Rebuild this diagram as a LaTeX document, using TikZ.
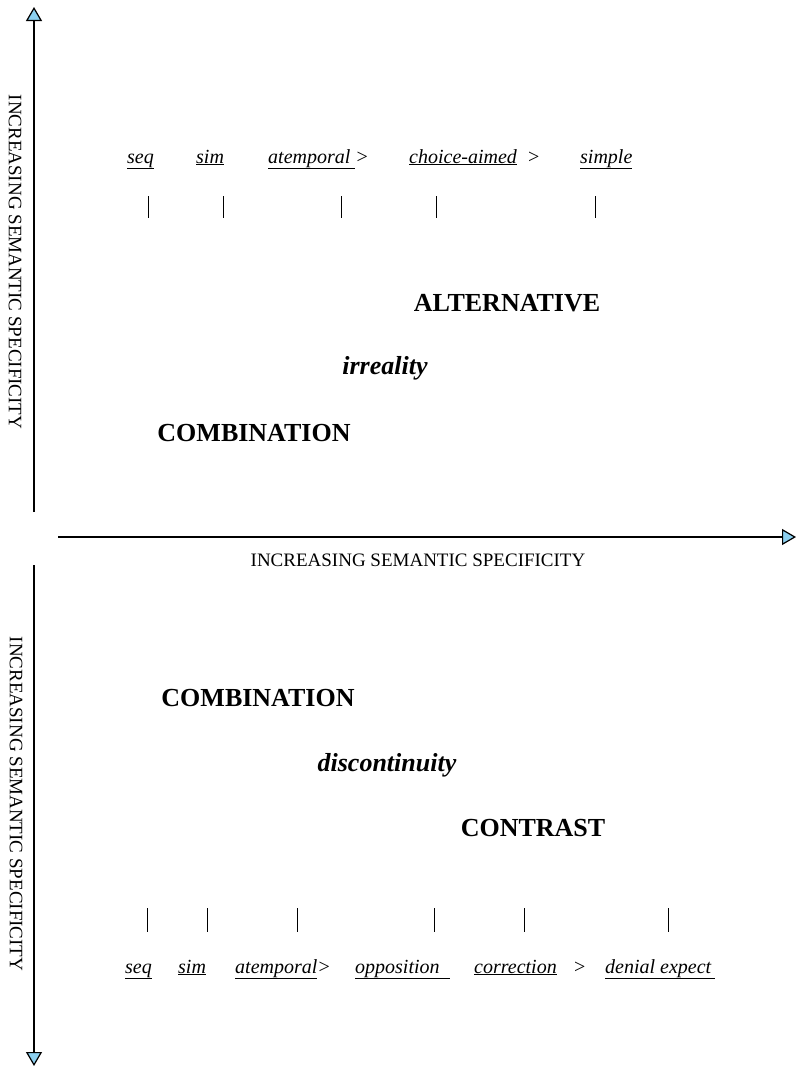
\documentclass[tikz,border=0pt]{standalone}
\usepackage{fontspec}
\setmainfont{Liberation Serif}
\usetikzlibrary{arrows.meta}
\definecolor{tipblue}{RGB}{140,208,240}

\begin{document}
\begin{tikzpicture}
    [x=1pt, y=-1pt,
      axis/.style={line width=1.4pt, -{Triangle[width=16pt,length=14pt,fill=tipblue,line width=1.2pt]}},
      axislabel/.style={font=\fontsize{19}{22}\selectfont, inner sep=0pt},
      marker/.style={font=\itshape\fontsize{20}{24}\selectfont, anchor=base west, inner sep=0pt},
      tickline/.style={line width=0.8pt},
      category/.style={font=\bfseries\fontsize{26}{30}\selectfont, anchor=base, inner sep=0pt},
      feature/.style={font=\bfseries\itshape\fontsize{26}{30}\selectfont, anchor=base, inner sep=0pt}]
    \useasboundingbox (0,0) rectangle (797,1068);
    % axes
    \coordinate (up start) at (34,512);
    \coordinate (up end) at (34,7);
    \coordinate (right start) at (58,537);
    \coordinate (right end) at (796,537);
    \coordinate (down start) at (34,565);
    \coordinate (down end) at (34,1066);
    \draw[axis] (up start) -- (up end);
    \draw[axis] (right start) -- (right end);
    \draw[axis] (down start) -- (down end);
    \node[axislabel, rotate=-90] (up label) at (15,262) {INCREASING SEMANTIC SPECIFICITY};
    \node[axislabel] (right label) at (418,560) {INCREASING SEMANTIC SPECIFICITY};
    \node[axislabel, rotate=-90] (down label) at (16,804) {INCREASING SEMANTIC SPECIFICITY};

    % upper half
    \node[marker] (seq up) at (127,163) {\underline{seq}};
    \node[marker] (sim up) at (196,163) {\underline{sim}};
    \node[marker] (atemp up) at (268,163) {\underline{atemporal\ }>};
    \node[marker] (choice) at (409,163) {\underline{choice-aimed}\hspace{10pt}>};
    \node[marker] (simple) at (580,163) {\underline{simple}};
    \foreach \x in {148,223,341,436,595}
      \draw[tickline] (\x,196) -- (\x,218);
    \node[category] (alternative) at (507,311) {ALTERNATIVE};
    \node[feature] (irreality) at (385,374) {irreality};
    \node[category] (combination up) at (254,441) {COMBINATION};

    % lower half
    \node[category] (combination down) at (258,706) {COMBINATION};
    \node[feature] (discontinuity) at (387,771) {discontinuity};
    \node[category] (contrast) at (533,836) {CONTRAST};
    \foreach \x in {147,207,297,434,524,668}
      \draw[tickline] (\x,908) -- (\x,932);
    \node[marker] (seq down) at (125,973) {\underline{seq}};
    \node[marker] (sim down) at (178,973) {\underline{sim}};
    \node[marker] (atemp down) at (235,973) {\underline{atemporal}>};
    \node[marker] (opposition) at (355,973) {\underline{opposition\ \ }};
    \node[marker] (correction) at (474,973) {\underline{correction}\hspace{16pt}>};
    \node[marker] (denial) at (605,973) {\underline{denial expect\,}};
  \end{tikzpicture}
\end{document}
